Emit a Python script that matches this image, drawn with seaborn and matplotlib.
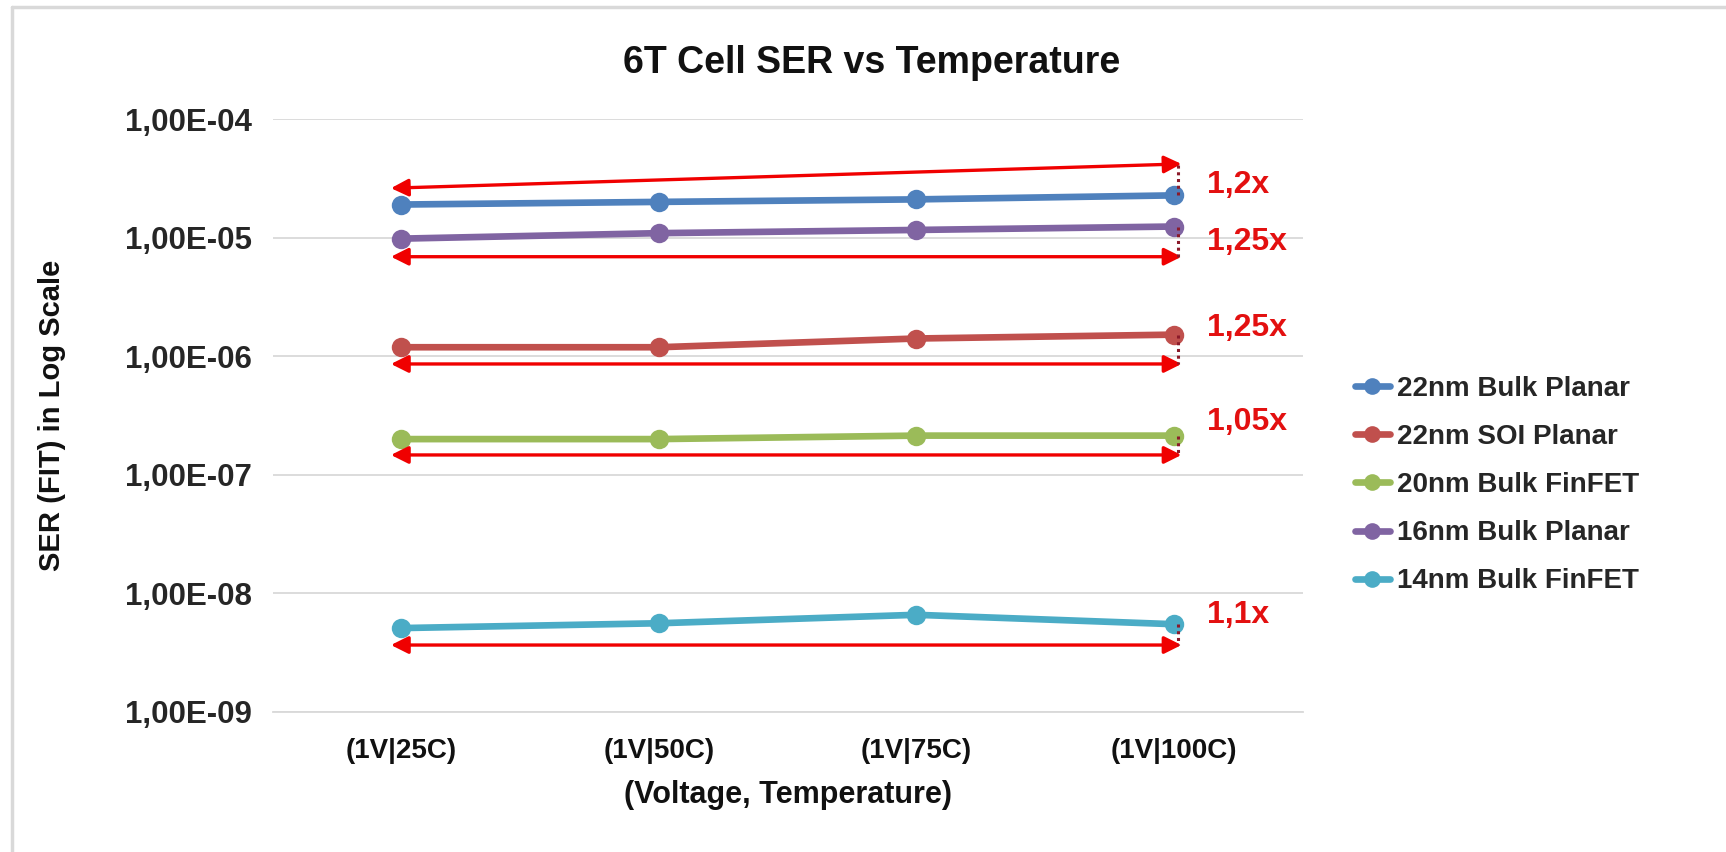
import numpy as np
import pandas as pd
import seaborn as sns
import matplotlib
matplotlib.use("Agg")
import matplotlib.pyplot as plt
from matplotlib.lines import Line2D
from matplotlib.ticker import FuncFormatter, FixedLocator, NullLocator

# ---------------- data ----------------
categories = ["(1V|25C)", "(1V|50C)", "(1V|75C)", "(1V|100C)"]
series_names = ["22nm Bulk Planar", "22nm SOI Planar", "20nm Bulk FinFET",
                "16nm Bulk Planar", "14nm Bulk FinFET"]
bulk22 = [1.90e-5, 2.00e-5, 2.10e-5, 2.27e-5]
soi22 = [1.19e-6, 1.19e-6, 1.41e-6, 1.52e-6]
fin20 = [2.00e-7, 2.00e-7, 2.14e-7, 2.14e-7]
bulk16 = [0.98e-5, 1.09e-5, 1.16e-5, 1.24e-5]
fin14 = [5.1e-9, 5.6e-9, 6.6e-9, 5.5e-9]
colors = ["#4F81BD", "#C0504D", "#9BBB59", "#8064A2", "#4BACC6"]

# annotation arrows (ordered top to bottom) and the series they refer to
arrow_series = ["22nm Bulk Planar", "16nm Bulk Planar", "22nm SOI Planar",
                "20nm Bulk FinFET", "14nm Bulk FinFET"]
arrow_left = [2.61e-5, 6.9e-6, 8.6e-7, 1.47e-7, 3.67e-9]
arrow_right = [4.18e-5, 6.9e-6, 8.6e-7, 1.47e-7, 3.67e-9]
ratio_labels = ["1,2x", "1,25x", "1,25x", "1,05x", "1,1x"]
ratio_label_y = [2.78e-5, 9.2e-6, 1.73e-6, 2.79e-7, 6.58e-9]

title = "6T Cell SER vs Temperature"
xlabel = "(Voltage, Temperature)"
ylabel = "SER (FIT) in Log Scale"
ytick_values = [1e-9, 1e-8, 1e-7, 1e-6, 1e-5, 1e-4]

values = {"22nm Bulk Planar": bulk22, "22nm SOI Planar": soi22,
          "20nm Bulk FinFET": fin20, "16nm Bulk Planar": bulk16,
          "14nm Bulk FinFET": fin14}
df = pd.DataFrame([(s, c, v) for s in series_names
                   for c, v in zip(categories, values[s])],
                  columns=["series", "cond", "ser"])
palette = dict(zip(series_names, colors))

# ---------------- style ----------------
sns.set_theme(style="white")
plt.rcParams["font.family"] = ["Liberation Sans", "DejaVu Sans"]
plt.rcParams["font.weight"] = "bold"

fig = plt.figure(figsize=(17.26, 8.52), dpi=100)
ax = fig.add_axes([272.5 / 1726, 1 - 712 / 852, 1030 / 1726, 593 / 852])

sns.lineplot(data=df, x="cond", y="ser", hue="series", palette=palette,
             hue_order=series_names, sort=False, marker="o", markersize=14,
             markeredgewidth=0, linewidth=4.8, ax=ax, legend=False)

ax.set_yscale("log")
ax.set_ylim(1e-9, 1e-4)
ax.set_xlim(-0.5, len(categories) - 0.5)
ax.yaxis.set_major_locator(FixedLocator(ytick_values))
ax.yaxis.set_minor_locator(NullLocator())
ax.yaxis.set_major_formatter(FuncFormatter(lambda v, p: f"{v:.2E}".replace(".", ",")))
ax.grid(axis="y", color="#D9D9D9", linewidth=1.3)
ax.grid(axis="x", visible=False)
for s in ["left", "right", "top"]:
    ax.spines[s].set_visible(False)
ax.spines["bottom"].set_color("#D9D9D9")
ax.spines["bottom"].set_linewidth(1.3)
ax.tick_params(axis="y", length=0, pad=15, labelsize=22.5, labelcolor="#262626")
ax.tick_params(axis="x", length=0, pad=19, labelsize=20, labelcolor="#111111")
for t in ax.get_xticklabels() + ax.get_yticklabels():
    t.set_fontweight("bold")

ax.set_xlabel(xlabel, fontsize=22, fontweight="bold", color="#111111")
ax.xaxis.set_label_coords(0.5, -0.115)
ax.set_ylabel(ylabel, fontsize=21, fontweight="bold", color="#111111")
ax.yaxis.set_label_coords(-0.2, 0.5)

fig.text(0.505, 1 - 63 / 852, title, ha="center", va="center",
         fontsize=27, fontweight="bold", color="#111111")

# ---------------- red arrows & ratio labels ----------------
last = len(categories) - 1
for name, yl, yr, lab, ly in zip(arrow_series, arrow_left, arrow_right,
                                 ratio_labels, ratio_label_y):
    ax.annotate("", xy=(-0.04, yl), xytext=(last + 0.03, yr),
                arrowprops=dict(arrowstyle="<|-|>", color="#F00000", lw=2.4,
                                mutation_scale=26, shrinkA=0, shrinkB=0))
    ax.plot([last + 0.015, last + 0.015], [values[name][-1], yr],
            linestyle=(0, (1, 1.2)), color="#8B1A2A", linewidth=2.2, zorder=5)
    ax.text(last + 0.13, ly, lab, ha="left", va="center", fontsize=23,
            fontweight="bold", color="#E31010")

# ---------------- legend ----------------
handles = [Line2D([0], [0], color=c, lw=4.8, marker="o", markersize=12,
                  markeredgewidth=0) for c in colors]
fig.legend(handles, series_names, loc="center left",
           bbox_to_anchor=(1330 / 1726, 1 - 485 / 852), frameon=False,
           handlelength=1.25, handletextpad=0.25, labelspacing=0.8,
           prop={"weight": "bold", "size": 20})

# ---------------- chart border (left & top) ----------------
fig.add_artist(Line2D([12 / 1726, 12 / 1726], [0, 1 - 7 / 852],
                      transform=fig.transFigure, color="#D9D9D9", lw=2.5))
fig.add_artist(Line2D([12 / 1726, 1], [1 - 7 / 852, 1 - 7 / 852],
                      transform=fig.transFigure, color="#D9D9D9", lw=2.5))

fig.savefig("out.png", dpi=100, facecolor="white")
